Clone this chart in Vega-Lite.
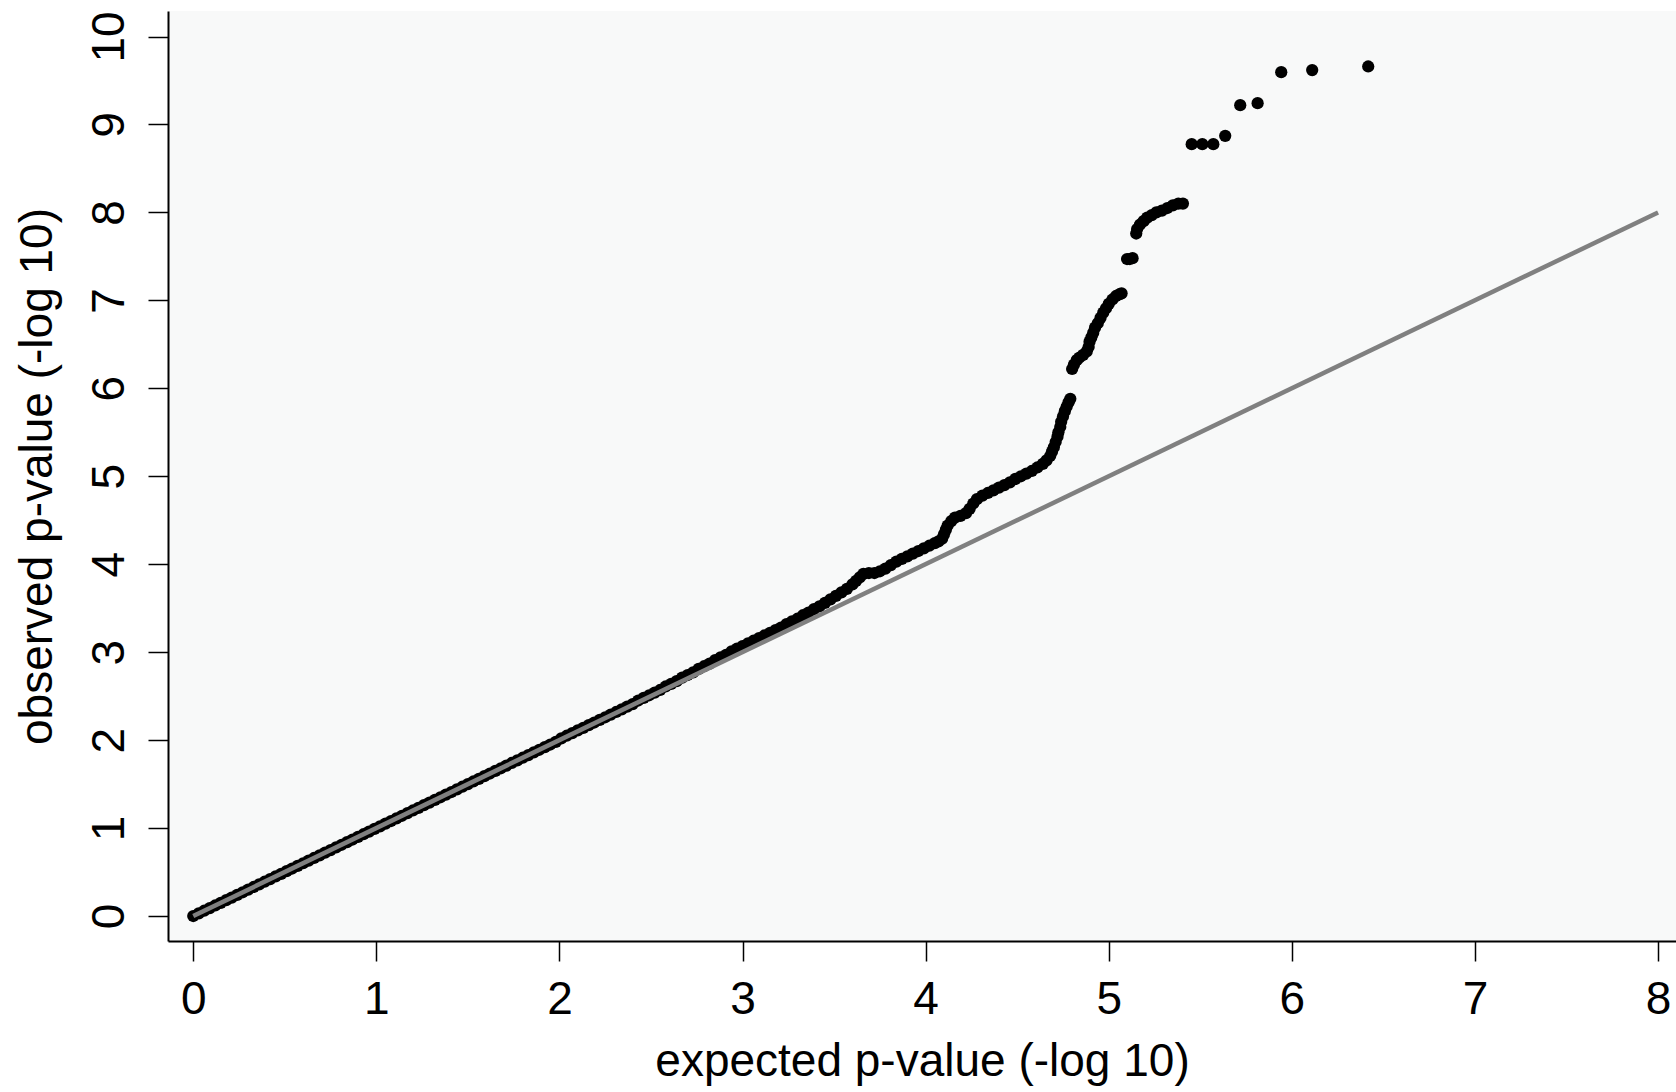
{
  "$schema": "https://vega.github.io/schema/vega-lite/v6.json",
  "autosize": {"type": "none"},
  "width": 1508,
  "height": 930,
  "padding": {"left": 168, "top": 11, "right": 0, "bottom": 151},
  "background": "white",
  "config": {
    "view": {"fill": "#f8f9f9", "stroke": null},
    "font": "Liberation Sans"
  },
  "datasets": {
    "qq": [
      {"x":0,"y":0},{"x":0.03,"y":0.03},{"x":0.06,"y":0.06},{"x":0.09,"y":0.09},{"x":0.12,"y":0.12},{"x":0.15,"y":0.15},{"x":0.18,"y":0.18},{"x":0.21,"y":0.21},{"x":0.24,"y":0.24},{"x":0.27,"y":0.27},
      {"x":0.3,"y":0.3},{"x":0.33,"y":0.33},{"x":0.36,"y":0.36},{"x":0.39,"y":0.39},{"x":0.42,"y":0.42},{"x":0.45,"y":0.45},{"x":0.48,"y":0.48},{"x":0.51,"y":0.51},{"x":0.54,"y":0.54},{"x":0.57,"y":0.57},
      {"x":0.6,"y":0.6},{"x":0.63,"y":0.63},{"x":0.66,"y":0.66},{"x":0.69,"y":0.69},{"x":0.72,"y":0.72},{"x":0.75,"y":0.75},{"x":0.78,"y":0.78},{"x":0.81,"y":0.81},{"x":0.84,"y":0.84},{"x":0.87,"y":0.87},
      {"x":0.9,"y":0.9},{"x":0.93,"y":0.93},{"x":0.96,"y":0.96},{"x":0.99,"y":0.99},{"x":1.02,"y":1.02},{"x":1.05,"y":1.05},{"x":1.08,"y":1.08},{"x":1.11,"y":1.11},{"x":1.14,"y":1.14},{"x":1.17,"y":1.17},
      {"x":1.2,"y":1.2},{"x":1.23,"y":1.23},{"x":1.26,"y":1.26},{"x":1.29,"y":1.29},{"x":1.32,"y":1.32},{"x":1.35,"y":1.35},{"x":1.38,"y":1.38},{"x":1.41,"y":1.41},{"x":1.44,"y":1.44},{"x":1.47,"y":1.47},
      {"x":1.5,"y":1.5},{"x":1.53,"y":1.53},{"x":1.56,"y":1.56},{"x":1.59,"y":1.59},{"x":1.62,"y":1.62},{"x":1.65,"y":1.65},{"x":1.68,"y":1.68},{"x":1.71,"y":1.71},{"x":1.74,"y":1.74},{"x":1.77,"y":1.77},
      {"x":1.8,"y":1.8},{"x":1.83,"y":1.83},{"x":1.86,"y":1.86},{"x":1.89,"y":1.89},{"x":1.92,"y":1.92},{"x":1.95,"y":1.95},{"x":1.98,"y":1.98},{"x":2.01,"y":2.02},{"x":2.04,"y":2.05},{"x":2.07,"y":2.08},
      {"x":2.1,"y":2.11},{"x":2.13,"y":2.14},{"x":2.16,"y":2.17},{"x":2.19,"y":2.2},{"x":2.22,"y":2.23},{"x":2.25,"y":2.26},{"x":2.28,"y":2.29},{"x":2.31,"y":2.32},{"x":2.34,"y":2.35},{"x":2.37,"y":2.38},
      {"x":2.4,"y":2.41},{"x":2.43,"y":2.45},{"x":2.46,"y":2.48},{"x":2.49,"y":2.51},
      {"x":2.52,"y":2.54},{"x":2.55,"y":2.57},{"x":2.58,"y":2.61},{"x":2.61,"y":2.64},{"x":2.64,"y":2.67},{"x":2.67,"y":2.71},{"x":2.7,"y":2.74},{"x":2.73,"y":2.77},{"x":2.76,"y":2.81},{"x":2.79,"y":2.84},
      {"x":2.82,"y":2.87},{"x":2.85,"y":2.91},{"x":2.88,"y":2.94},{"x":2.91,"y":2.97},{"x":2.94,"y":3.01},{"x":2.97,"y":3.04},{"x":3.0,"y":3.07},{"x":3.03,"y":3.1},{"x":3.06,"y":3.13},{"x":3.09,"y":3.16},
      {"x":3.12,"y":3.19},{"x":3.15,"y":3.22},{"x":3.18,"y":3.25},{"x":3.21,"y":3.28},{"x":3.24,"y":3.32},{"x":3.27,"y":3.35},{"x":3.3,"y":3.38},{"x":3.33,"y":3.42},{"x":3.36,"y":3.45},{"x":3.39,"y":3.49},
      {"x":3.42,"y":3.52},{"x":3.45,"y":3.56},{"x":3.48,"y":3.6},{"x":3.51,"y":3.64},{"x":3.54,"y":3.68},{"x":3.57,"y":3.72},{"x":3.6,"y":3.77},{"x":3.62,"y":3.81},{"x":3.64,"y":3.85},{"x":3.66,"y":3.89},
      {"x":3.69,"y":3.9},{"x":3.72,"y":3.9},{"x":3.75,"y":3.92},{"x":3.78,"y":3.95},{"x":3.81,"y":3.99},{"x":3.84,"y":4.03},{"x":3.87,"y":4.06},{"x":3.9,"y":4.09},{"x":3.93,"y":4.12},{"x":3.96,"y":4.15},
      {"x":3.99,"y":4.18},{"x":4.02,"y":4.21},{"x":4.05,"y":4.24},{"x":4.07,"y":4.26},{"x":4.09,"y":4.29},{"x":4.1,"y":4.34},{"x":4.11,"y":4.39},{"x":4.12,"y":4.44},{"x":4.14,"y":4.49},{"x":4.16,"y":4.53},
      {"x":4.19,"y":4.55},{"x":4.22,"y":4.58},{"x":4.24,"y":4.63},{"x":4.26,"y":4.69},{"x":4.28,"y":4.74},{"x":4.31,"y":4.78},{"x":4.34,"y":4.81},{"x":4.37,"y":4.84},{"x":4.4,"y":4.87},{"x":4.43,"y":4.9},
      {"x":4.46,"y":4.93},{"x":4.49,"y":4.97},{"x":4.52,"y":5.0},{"x":4.55,"y":5.03},{"x":4.58,"y":5.06},{"x":4.61,"y":5.1},{"x":4.64,"y":5.14},{"x":4.66,"y":5.18},{"x":4.68,"y":5.23},{"x":4.69,"y":5.28},
      {"x":4.7,"y":5.33},{"x":4.71,"y":5.39},{"x":4.72,"y":5.45},{"x":4.725,"y":5.5},{"x":4.735,"y":5.56},{"x":4.74,"y":5.62},{"x":4.75,"y":5.68},{"x":4.76,"y":5.74},{"x":4.77,"y":5.79},{"x":4.78,"y":5.84},
      {"x":4.79,"y":5.88},
      {"x":4.8,"y":6.22},{"x":4.81,"y":6.27},{"x":4.825,"y":6.32},{"x":4.84,"y":6.35},{"x":4.86,"y":6.38},{"x":4.88,"y":6.42},{"x":4.89,"y":6.47},{"x":4.895,"y":6.53},{"x":4.905,"y":6.58},{"x":4.915,"y":6.63},
      {"x":4.925,"y":6.69},{"x":4.94,"y":6.74},{"x":4.955,"y":6.8},{"x":4.97,"y":6.86},{"x":4.985,"y":6.91},{"x":5.0,"y":6.96},{"x":5.02,"y":7.01},{"x":5.04,"y":7.05},{"x":5.06,"y":7.07},{"x":5.07,"y":7.08},
      {"x":5.1,"y":7.47},{"x":5.115,"y":7.47},{"x":5.13,"y":7.48},
      {"x":5.15,"y":7.76},{"x":5.155,"y":7.81},{"x":5.17,"y":7.86},{"x":5.19,"y":7.9},{"x":5.21,"y":7.94},{"x":5.235,"y":7.97},{"x":5.26,"y":8.0},{"x":5.29,"y":8.02},{"x":5.32,"y":8.05},{"x":5.35,"y":8.08},
      {"x":5.38,"y":8.1},{"x":5.405,"y":8.1},
      {"x":5.453,"y":8.776},{"x":5.511,"y":8.776},{"x":5.571,"y":8.776},{"x":5.636,"y":8.871},{"x":5.718,"y":9.219},{"x":5.813,"y":9.242},{"x":5.942,"y":9.595},{"x":6.111,"y":9.618},{"x":6.417,"y":9.659}
    ],
    "ref": [{"x":0,"y":0},{"x":8,"y":8}]
  },
  "encoding": {
    "x": {
      "field": "x", "type": "quantitative",
      "scale": {"domain": [-0.138, 8.098], "nice": false, "zero": false},
      "axis": {
        "title": "expected p-value (-log 10)",
        "values": [0,1,2,3,4,5,6,7,8],
        "grid": false,
        "domainColor": "black", "domainWidth": 2,
        "tickColor": "black", "tickWidth": 1.5, "tickSize": 20,
        "labelFontSize": 46, "labelColor": "black", "labelPadding": 16, "labelFont": "Liberation Sans",
        "labelFlush": false, "labelOverlap": false,
        "titleFontSize": 46, "titleFontWeight": "normal", "titleColor": "black", "titleFont": "Liberation Sans",
        "titleBaseline": "alphabetic", "titleY": 134
      }
    },
    "y": {
      "field": "y", "type": "quantitative",
      "scale": {"domain": [-0.284, 10.29], "nice": false, "zero": false},
      "axis": {
        "title": "observed p-value (-log 10)",
        "values": [0,1,2,3,4,5,6,7,8,9,10],
        "grid": false,
        "domainColor": "black", "domainWidth": 2,
        "tickColor": "black", "tickWidth": 1.5, "tickSize": 20,
        "labelFontSize": 46, "labelColor": "black", "labelPadding": 15, "labelFont": "Liberation Sans",
        "labelAngle": -90, "labelAlign": "center", "labelBaseline": "bottom",
        "labelFlush": false, "labelOverlap": false,
        "titleFontSize": 46, "titleFontWeight": "normal", "titleColor": "black", "titleFont": "Liberation Sans",
        "titleAngle": -90, "titleBaseline": "alphabetic", "titleX": -117, "titleY": 465, "titleAlign": "center"
      }
    }
  },
  "layer": [
    {
      "data": {"name": "qq"},
      "mark": {"type": "circle", "color": "black", "size": 150, "opacity": 1}
    },
    {
      "data": {"name": "ref"},
      "mark": {"type": "line", "color": "#808080", "strokeWidth": 4.5}
    }
  ]
}
